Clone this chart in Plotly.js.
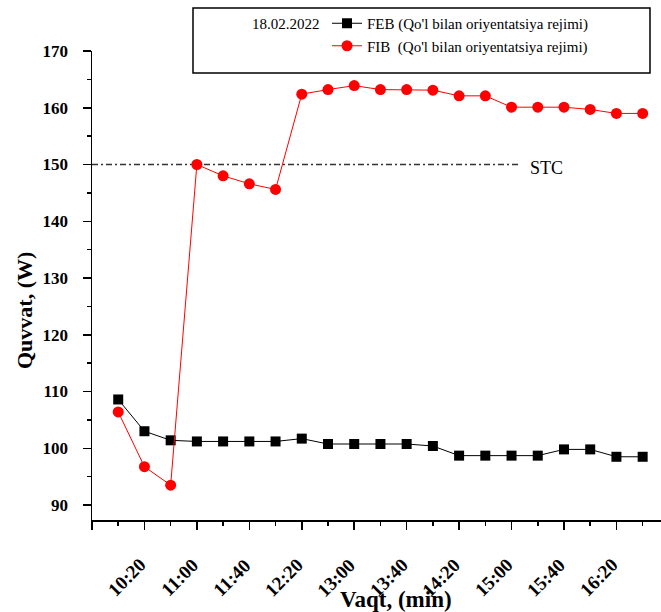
<!DOCTYPE html>
<html>
<head>
<meta charset="utf-8">
<script src="https://cdn.plot.ly/plotly-3.0.1.min.js"></script>
<style>
html,body{margin:0;padding:0;background:#fff;}
#chart{width:661px;height:612px;}
</style>
</head>
<body>
<div id="chart"></div>
<script>
// ---- data ----
const times = ["10:00","10:20","10:40","11:00","11:20","11:40","12:00","12:20","12:40","13:00","13:20",
               "13:40","14:00","14:20","14:40","15:00","15:20","15:40","16:00","16:20","16:40"];
const febValues = [108.6,103.0,101.4,101.2,101.2,101.2,101.2,101.7,100.75,100.75,100.75,
                   100.75,100.4,98.7,98.7,98.7,98.7,99.8,99.8,98.5,98.5];
const fibValues = [106.4,96.75,93.5,150.0,148.0,146.6,145.6,162.4,163.2,163.9,163.2,
                   163.2,163.1,162.1,162.1,160.1,160.1,160.1,159.7,159.0,159.0];
const stcTimes = ["09:40","15:05"];
const stcValues = [150,150];
const xTickLabels = ["10:20","11:00","11:40","12:20","13:00","13:40","14:20","15:00","15:40","16:20"];
const febName = "FEB (Qo'l bilan oriyentatsiya rejimi)";
const fibName = "FIB  (Qo'l bilan oriyentatsiya rejimi)";
const dateLabel = "18.02.2022";

function toMin(t){ const p = t.split(":"); return (+p[0])*60 + (+p[1]); }

const FONT = "'Liberation Serif', 'Times New Roman', serif";
const x = times.map(toMin);

const traces = [
  {
    x: stcTimes.map(toMin), y: stcValues, mode: "lines", showlegend: false,
    line: {color: "#333333", width: 1.3, dash: "6px,3px,2px,3px"}, hoverinfo: "skip"
  },
  {
    x: x, y: febValues, name: febName, mode: "lines+markers",
    line: {color: "#000000", width: 1},
    marker: {symbol: "square", size: 10, color: "#000000"}
  },
  {
    x: x, y: fibValues, name: fibName, mode: "lines+markers",
    line: {color: "#ff0000", width: 1},
    marker: {symbol: "circle", size: 11, color: "#ff0000"}
  }
];

const W = 661, H = 612, L = 92, R = 0, T = 51, B = 92;
const pw = W - L - R, ph = H - T - B;
const px2x = p => (p - L) / pw;
const py2y = p => (H - B - p) / ph;

const xRange = [toMin("09:40"), toMin("16:54")];
const majorVals = [toMin("09:40")].concat(xTickLabels.map(toMin));

// rotated x tick labels, placed at the axis tick values
const tickLabelAnns = xTickLabels.map(t => ({
  text: t, xref: "x", yref: "paper", x: toMin(t), y: py2y(552),
  xanchor: "right", yanchor: "top", xshift: 8, textangle: -45, showarrow: false,
  font: {family: FONT, size: 19, weight: 700, color: "#000"}
}));

const layout = {
  width: W, height: H,
  margin: {l: L, r: R, t: T, b: B, pad: 0},
  paper_bgcolor: "#ffffff", plot_bgcolor: "#ffffff",
  font: {family: FONT, color: "#000"},
  showlegend: true,
  legend: {
    x: px2x(327), y: py2y(7), xanchor: "left", yanchor: "top",
    bgcolor: "rgba(0,0,0,0)", borderwidth: 0,
    font: {family: FONT, size: 15, color: "#000"},
    tracegroupgap: 0
  },
  xaxis: {
    range: xRange,
    tickmode: "array",
    tickvals: majorVals,
    showticklabels: false,
    ticks: "outside", ticklen: 8, tickwidth: 1.5, tickcolor: "#000",
    minor: {tickmode: "linear", tick0: toMin("10:00"), dtick: 40, ticks: "outside", ticklen: 4, tickwidth: 1.5, tickcolor: "#000"},
    showline: true, linecolor: "#000", linewidth: 1.5,
    showgrid: false, zeroline: false, mirror: false
  },
  yaxis: {
    range: [87.36, 170],
    tickmode: "linear", tick0: 90, dtick: 10,
    ticks: "outside", ticklen: 8, tickwidth: 1.5, tickcolor: "#000",
    minor: {tickmode: "linear", tick0: 95, dtick: 10, ticks: "outside", ticklen: 4, tickwidth: 1.5, tickcolor: "#000"},
    ticklabelstandoff: 11,
    tickfont: {family: FONT, size: 17, weight: 700, color: "#000"},
    showline: true, linecolor: "#000", linewidth: 1.5,
    showgrid: false, zeroline: false, mirror: false
  },
  shapes: [
    {type: "rect", xref: "paper", yref: "paper",
     x0: px2x(193), x1: px2x(650), y0: py2y(73), y1: py2y(8),
     line: {color: "#000", width: 1.5}, fillcolor: "rgba(0,0,0,0)", layer: "above"}
  ],
  annotations: [
    {text: dateLabel, xref: "paper", yref: "paper", x: px2x(322), y: py2y(24),
     xanchor: "right", yanchor: "middle", showarrow: false,
     font: {family: FONT, size: 15, color: "#000"}},
    {text: "STC", xref: "paper", yref: "y", x: px2x(528), y: 150, yshift: -3,
     xanchor: "left", yanchor: "middle", showarrow: false,
     font: {family: FONT, size: 18, color: "#000"}},
    {text: "Quvvat, (W)", xref: "paper", yref: "paper", x: px2x(24), y: py2y(311),
     xanchor: "center", yanchor: "middle", textangle: -90, showarrow: false,
     font: {family: FONT, size: 22, weight: 700, color: "#000"}},
    {text: "Vaqt, (min)", xref: "paper", yref: "paper", x: px2x(396), y: py2y(599),
     xanchor: "center", yanchor: "middle", showarrow: false,
     font: {family: FONT, size: 23, weight: 700, color: "#000"}}
  ].concat(tickLabelAnns)
};

Plotly.newPlot("chart", traces, layout, {displayModeBar: false, staticPlot: true});
</script>
</body>
</html>
